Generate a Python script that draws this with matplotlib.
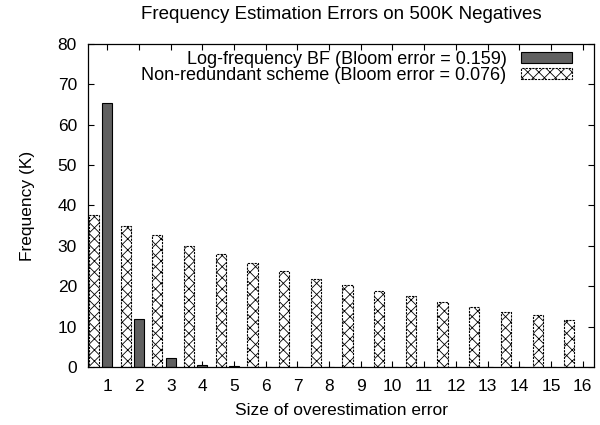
import matplotlib
matplotlib.use("Agg")
import matplotlib.pyplot as plt
import numpy as np

plt.rcParams["font.family"] = ["Liberation Sans", "DejaVu Sans"]
plt.rcParams["hatch.linewidth"] = 0.6

# values in thousands
error_size = list(range(1, 17))
log_freq_bf = [65.3, 11.9, 2.3, 0.6, 0.15, 0.1, 0.06, 0.05, 0.04, 0.03, 0.03, 0.02, 0.02, 0.02, 0.01, 0.01]
non_redundant = [37.6, 35.0, 32.6, 30.0, 28.0, 25.7, 23.7, 21.9, 20.3, 18.8, 17.5, 16.1, 14.8, 13.5, 12.8, 11.6]

label_log = "Log-frequency BF (Bloom error = 0.159)"
label_nr = "Non-redundant scheme (Bloom error = 0.076)"

fs = 12.5

fig = plt.figure(figsize=(6, 4.25), dpi=100)
ax = fig.add_axes([0.1467, 0.1365, 0.8433, 0.76])

x = np.array(error_size)
w = 0.32
ax.bar(x, log_freq_bf, width=w, color="#606060", edgecolor="black",
       linewidth=0.8, label=label_log, zorder=2)
ax.bar(x - 0.42, non_redundant, width=w, color="white", edgecolor="black",
       hatch="xxx", linewidth=0.8, linestyle=(0, (2, 1)), label=label_nr, zorder=2)

ax.set_xlim(0.39, 16.36)
ax.set_ylim(0, 80)
ax.set_xticks(error_size)
ax.set_yticks(range(0, 81, 10))
ax.tick_params(direction="in", length=4, width=0.8, top=True, right=True,
               labelsize=fs)
ax.tick_params(axis="x", pad=9)
ax.tick_params(axis="y", pad=8)
for s in ax.spines.values():
    s.set_linewidth(0.9)

ax.set_title("Frequency Estimation Errors on 500K Negatives", fontsize=13.5, pad=18)
ax.set_xlabel("Size of overestimation error", fontsize=fs, labelpad=6)
ax.set_ylabel("Frequency (K)", fontsize=fs, labelpad=16)

ax.legend(loc="upper right", bbox_to_anchor=(0.970, 1.0), borderaxespad=0,
          frameon=False, markerfirst=False, fontsize=13,
          handlelength=2.8, handleheight=0.55, labelspacing=-0.05,
          handletextpad=0.8)

fig.savefig("out.png", dpi=100)
plt.close(fig)
